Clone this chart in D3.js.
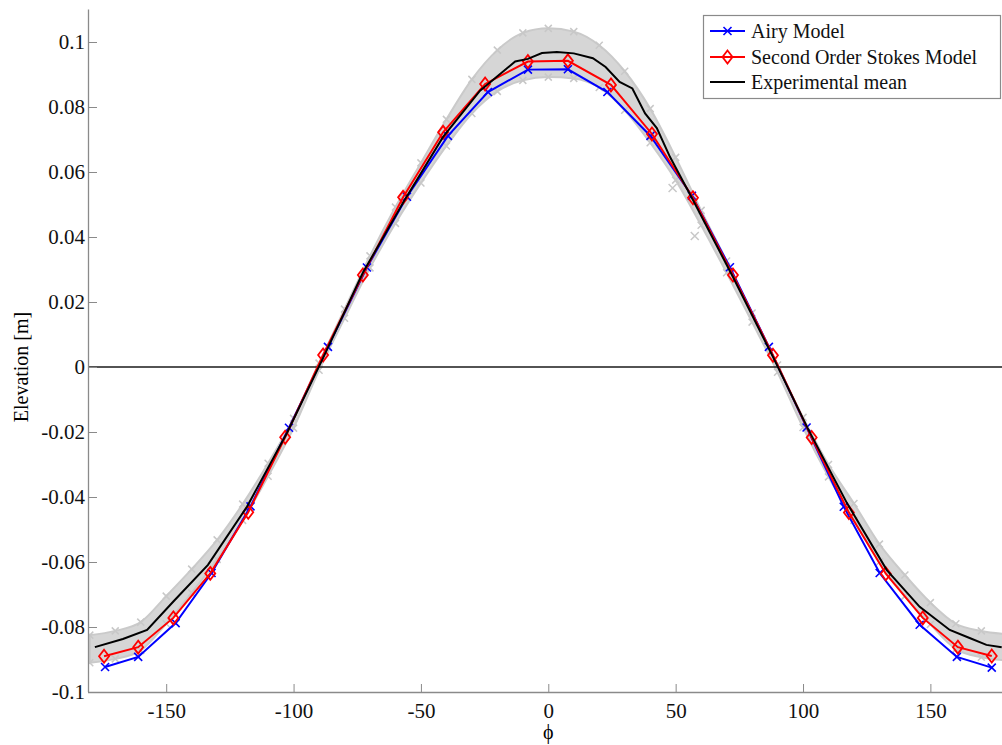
<!DOCTYPE html>
<html>
<head>
<meta charset="utf-8">
<script src="https://cdn.jsdelivr.net/npm/d3@7"></script>
<style>
  body { margin: 0; background: #fff; }
  svg { display: block; }
  .axis path, .axis line { stroke: #8a8a8a; }
</style>
</head>
<body>
<div id="chart"></div>
<script>
// Airy model (blue x)
var airyPhi = [-174.0, -161.0, -146.3, -132.2, -116.9, -101.8, -86.5, -71.2, -55.5, -39.4, -23.7, -8.0,
               7.7, 23.2, 40.1, 56.4, 71.3, 86.6, 101.4, 116.0, 130.1, 145.8, 160.4, 174.1]
var airyEta = [-0.0923, -0.0892, -0.0788, -0.0634, -0.0429, -0.0187, 0.0062, 0.0306, 0.0524, 0.0711, 0.0846, 0.0915,
               0.0916, 0.0846, 0.0711, 0.0527, 0.0307, 0.0062, -0.0186, -0.0430, -0.0634, -0.0793, -0.0892, -0.0925]

// second order Stokes model (red diamonds)
var stokesPhi = [-174.4, -161.0, -147.2, -132.7, -117.8, -103.3, -88.4, -72.8, -57.0, -41.3, -24.8, -8.0,
                 7.7, 24.6, 40.7, 56.8, 72.5, 88.2, 103.4, 118.0, 132.5, 147.0, 160.8, 174.1]
var stokesEta = [-0.0890, -0.0862, -0.0772, -0.0635, -0.0447, -0.0216, 0.0037, 0.0283, 0.0522, 0.0722, 0.0871, 0.0940,
                 0.0942, 0.0868, 0.0717, 0.0521, 0.0283, 0.0036, -0.0217, -0.0448, -0.0636, -0.0772, -0.0862, -0.0889]

// experimental mean (black)
var meanPhi = [-178, -167, -157.5, -147, -133.6, -118.3, -102.6, -88.4, -72.8, -56.4, -41.3, -26.8, -13, -8, -2.5,
               3.4, 10, 17.5, 22.5, 28, 33, 38, 42.6, 47.8, 56.8, 72.5, 88.2, 101.8, 117.2, 132.9, 145.8, 157.6,
               165.4, 172, 178]
var meanEta = [-0.0862, -0.0837, -0.0809, -0.0720, -0.0609, -0.0430, -0.0203, 0.0028, 0.0290, 0.0514, 0.0708, 0.0850,
               0.0940, 0.0948, 0.0966, 0.0969, 0.0965, 0.0950, 0.0923, 0.0877, 0.0857, 0.0780, 0.0735, 0.0646,
               0.0514, 0.0277, 0.0031, -0.0188, -0.0418, -0.0625, -0.0738, -0.0809, -0.0834, -0.0855, -0.0862]

// spread of the measured samples (grey x cloud), upper and lower edge
var bandPhi = [-180, -170, -160, -150, -140, -130, -120, -110, -100, -90, -80, -70, -60, -50, -40, -30, -20, -10,
               0, 10, 20, 30, 40, 50, 60, 70, 80, 90, 100, 110, 120, 130, 140, 150, 160, 170, 180]
var bandHigh = [-0.0825, -0.0812, -0.0785, -0.0705, -0.0622, -0.0532, -0.0422, -0.0296, -0.0158, 0.0012, 0.0178,
                0.0342, 0.0492, 0.0628, 0.0762, 0.0885, 0.0975, 0.1028, 0.1042, 0.1032, 0.0990, 0.0910, 0.0795,
                0.0645, 0.0482, 0.0326, 0.0166, 0.0006, -0.0155, -0.0300, -0.0420, -0.0545, -0.0640, -0.0725,
                -0.0790, -0.0812, -0.0822]
var bandLow = [-0.0910, -0.0898, -0.0872, -0.0790, -0.0695, -0.0592, -0.0472, -0.0336, -0.0188, -0.0010, 0.0150,
               0.0305, 0.0442, 0.0566, 0.0680, 0.0780, 0.0848, 0.0882, 0.0892, 0.0888, 0.0860, 0.0790, 0.0690,
               0.0575, 0.0436, 0.0290, 0.0138, -0.0016, -0.0186, -0.0338, -0.0472, -0.0600, -0.0705, -0.0792,
               -0.0868, -0.0893, -0.0903]
var outlierPhi = [48.8, 57.5]
var outlierEta = [0.0551, 0.0403]

var xTicks = [-150, -100, -50, 0, 50, 100, 150]
var yTicks = [-0.1, -0.08, -0.06, -0.04, -0.02, 0, 0.02, 0.04, 0.06, 0.08, 0.1]
var yTickLabels = ['-0.1', '-0.08', '-0.06', '-0.04', '-0.02', '0', '0.02', '0.04', '0.06', '0.08', '0.1']
var legendNames = ['Airy Model', 'Second Order Stokes Model', 'Experimental mean']

var width = 1002, height = 745
var plot = {left: 88, right: 1002, top: 9.5, bottom: 692}
var serif = '"Liberation Serif", "Times New Roman", serif'

var svg = d3.select('#chart').append('svg')
  .attr('width', width)
  .attr('height', height)

var x = d3.scaleLinear().domain([-180.7, 180]).range([plot.left, 1006.8])
var y = d3.scaleLinear().domain([-0.1, 0.11]).range([plot.bottom, plot.top])

svg.append('clipPath').attr('id', 'clip')
  .append('rect')
    .attr('x', plot.left).attr('y', plot.top)
    .attr('width', plot.right - plot.left).attr('height', plot.bottom - plot.top)

var g = svg.append('g').attr('clip-path', 'url(#clip)')

function pairs(xs, ys) { return xs.map(function(v, i) { return [v, ys[i]] }) }

// grey sample cloud
var band = bandPhi.map(function(p, i) { return {phi: p, hi: bandHigh[i], lo: bandLow[i]} })
g.append('path')
  .datum(band)
  .attr('fill', '#d6d6d6')
  .attr('stroke', '#cacaca')
  .attr('stroke-width', 2)
  .attr('d', d3.area()
    .curve(d3.curveMonotoneX)
    .x(function(d) { return x(d.phi) })
    .y0(function(d) { return y(d.lo) })
    .y1(function(d) { return y(d.hi) }))

function crosses(sel, data, size, color, width) {
  sel.selectAll(null)
    .data(data)
    .enter().append('path')
      .attr('d', function(d) {
        var px = x(d[0]), py = y(d[1])
        return 'M' + (px - size) + ',' + (py - size) + 'L' + (px + size) + ',' + (py + size) +
               'M' + (px - size) + ',' + (py + size) + 'L' + (px + size) + ',' + (py - size)
      })
      .attr('stroke', color)
      .attr('stroke-width', width)
      .attr('fill', 'none')
}

var greyMarks = g.append('g')
crosses(greyMarks, pairs(bandPhi, bandHigh), 3.5, '#c8c8c8', 1.5)
crosses(greyMarks, pairs(bandPhi, bandLow), 3.5, '#c8c8c8', 1.5)
crosses(greyMarks, pairs(outlierPhi, outlierEta), 4, '#c8c8c8', 1.5)

// zero line
g.append('line')
  .attr('x1', plot.left).attr('x2', plot.right)
  .attr('y1', y(0)).attr('y2', y(0))
  .attr('stroke', '#1a1a1a')
  .attr('stroke-width', 1.6)

var line = d3.line()
  .x(function(d) { return x(d[0]) })
  .y(function(d) { return y(d[1]) })

// Airy
g.append('path')
  .datum(pairs(airyPhi, airyEta))
  .attr('fill', 'none')
  .attr('stroke', '#0000ff')
  .attr('stroke-width', 2)
  .attr('d', line)
crosses(g.append('g'), pairs(airyPhi, airyEta), 4, '#0000ff', 1.6)

// Stokes
function diamond(px, py) {
  return 'M' + px + ',' + (py - 6.5) + 'L' + (px + 5) + ',' + py + 'L' + px + ',' + (py + 6.5) +
         'L' + (px - 5) + ',' + py + 'Z'
}
g.append('path')
  .datum(pairs(stokesPhi, stokesEta))
  .attr('fill', 'none')
  .attr('stroke', '#ff0000')
  .attr('stroke-width', 2)
  .attr('d', line)
g.append('g').selectAll('path')
  .data(pairs(stokesPhi, stokesEta))
  .enter().append('path')
    .attr('d', function(d) { return diamond(x(d[0]), y(d[1])) })
    .attr('fill', 'none')
    .attr('stroke', '#ff0000')
    .attr('stroke-width', 1.8)

// experimental mean
g.append('path')
  .datum(pairs(meanPhi, meanEta))
  .attr('fill', 'none')
  .attr('stroke', '#000')
  .attr('stroke-width', 2)
  .attr('d', line)

// axes
svg.append('g')
  .attr('class', 'axis')
  .attr('transform', 'translate(0,' + plot.bottom + ')')
  .call(d3.axisBottom(x).tickValues(xTicks).tickSizeInner(-8).tickSizeOuter(0).tickPadding(11)
    .tickFormat(function(d) { return String(d) }))
  .call(function(a) {
    a.select('.domain').attr('d', 'M' + plot.left + ',0.5H' + plot.right).attr('stroke-width', 1.3)
  })

svg.append('g')
  .attr('class', 'axis')
  .attr('transform', 'translate(' + plot.left + ',0)')
  .call(d3.axisLeft(y).tickValues(yTicks).tickSizeInner(-9).tickSizeOuter(0).tickPadding(3)
    .tickFormat(function(d, i) { return yTickLabels[i] }))
  .call(function(a) {
    a.select('.domain').attr('d', 'M0.5,' + plot.top + 'V' + plot.bottom).attr('stroke-width', 1.3)
  })

svg.selectAll('.axis .domain').attr('fill', 'none')
svg.selectAll('.axis .tick text')
  .style('font-family', serif)
  .style('font-size', '21px')
  .attr('fill', '#111')

// axis titles
svg.append('text')
  .attr('x', x(0))
  .attr('y', 739)
  .attr('text-anchor', 'middle')
  .style('font', '20px ' + serif)
  .text('\u03D5')

svg.append('text')
  .attr('transform', 'translate(28,' + y(0) + ') rotate(-90)')
  .attr('text-anchor', 'middle')
  .style('font', '20px ' + serif)
  .text('Elevation [m]')

// legend
var leg = svg.append('g').attr('transform', 'translate(703,15)')
leg.append('rect')
  .attr('x', 0.5).attr('y', 0.5)
  .attr('width', 297).attr('height', 83)
  .attr('fill', '#fff')
  .attr('stroke', '#8a8a8a')
  .attr('stroke-width', 1.2)

var rowY = [16, 42, 67]
var legColors = ['#0000ff', '#ff0000', '#000']
legendNames.forEach(function(name, i) {
  var ly = rowY[i]
  leg.append('line')
    .attr('x1', 7).attr('x2', 42).attr('y1', ly).attr('y2', ly)
    .attr('stroke', legColors[i]).attr('stroke-width', 2)
  if (i === 0) {
    leg.append('path')
      .attr('d', 'M20.5,' + (ly - 4) + 'L28.5,' + (ly + 4) + 'M20.5,' + (ly + 4) + 'L28.5,' + (ly - 4))
      .attr('stroke', legColors[i]).attr('stroke-width', 1.6)
  }
  if (i === 1) {
    leg.append('path')
      .attr('d', diamond(24.5, ly))
      .attr('fill', 'none').attr('stroke', legColors[i]).attr('stroke-width', 1.8)
  }
  leg.append('text')
    .attr('x', 48).attr('y', ly)
    .attr('dy', '0.33em')
    .style('font', '20px ' + serif)
    .attr('fill', '#111')
    .text(name)
})
</script>
</body>
</html>
